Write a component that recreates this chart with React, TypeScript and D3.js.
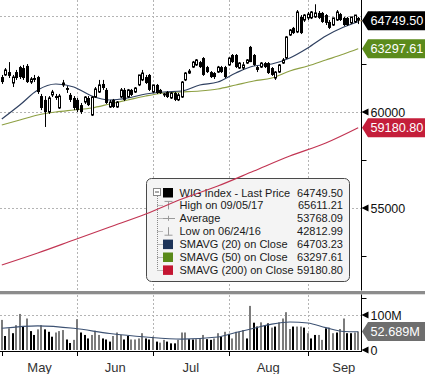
import React, { useEffect, useRef } from "react";
import * as d3 from "d3";

// daily candles, May 2 .. Sep 21 2017 (trading days)
const opens = [61820,61930,62080,61510,62080,62340,62290,62400,61560,61770, 61820,60830,60630,60000,60890,60830,60210,61410,61250,60890, 60730,60630,60360,60520,60730,59840,60780,61040,61460,61150, 60260,60630,60260,60780,61150,60780,61150,61040,61410,61670, 61820,61930,61040,61410,61150,60890,61040,60730,60990,60630, 60780,61670,62030,62340,62450,62600,62810,62340,62080,62030, 62080,62340,62340,62450,62970,62970,62290,62290,62550,63390, 62970,62340,62340,62550,62550,62290,61770,62080,62550,62810, 64010,64380,64170,64950,64790,64900,64900,64950,65160,65160, 65050,64690,64530,64790,65100,64900,64900,64640,64690,64900];
const highs = [61930,62290,62600,61930,62190,62400,62450,62500,61820,61930, 61880,60940,60830,60830,61150,60940,60940,61670,61350,60990, 60830,60730,60470,60830,60830,60830,61300,61670,61670,61250, 60630,60680,60570,61250,61250,61200,61200,61300,61930,62190, 61930,61980,61410,61460,61200,60990,61090,61040,61040,60990, 61610,62080,62240,62660,62760,62660,62860,62400,62130,62080, 62400,62400,62400,62860,63020,63020,62600,62600,62760,63440, 63020,62400,62600,62600,62600,62340,62130,62500,62810,63960, 64320,64430,65310,65050,65100,65210,65260,65611,65260,65210, 65100,64790,64900,65310,65160,64950,64950,64950,65050,64950];
const lows = [61460,61880,61770,61300,61670,61720,61670,61510,61460,61560, 60940,60100,59220,59900,60780,60630,60160,61300,60990,60520, 60100,60000,59900,60420,60310,59790,60730,60990,61150,60420, 60210,60210,60210,60730,60570,60730,60830,60990,61350,61610, 61460,61090,60990,60940,60940,60780,60730,60680,60570,60570, 60730,61610,61980,62290,62400,62290,61880,62030,61770,61720, 62030,62030,61770,62400,62550,62290,62240,62190,62500,62600, 62400,62080,62290,62290,61980,61880,61670,62030,62500,62760, 63960,64060,64110,64060,64690,64790,64840,64900,64840,64640, 64530,64320,64480,64740,64740,64480,64480,64580,64640,64580];
const closes = [61560,62190,61880,61820,61770,61820,61770,61560,61720,61670, 61040,60210,60000,60730,61040,60730,60830,61510,61150,60630, 60210,60100,60000,60780,60360,60780,61200,61410,61250,60470, 60520,60260,60520,61150,60630,61150,60890,61250,61930,62030, 61510,61150,61410,60990,60990,60940,60780,60990,60630,60890, 61560,62030,62130,62600,62710,62340,61930,62080,61820,61820, 62340,62080,61820,62810,62600,62340,62550,62450,62710,62600, 62450,62190,62550,62340,62030,61930,62080,62450,62710,63910, 64270,64110,65210,64110,65050,65100,65210,65160,64900,64690, 64640,64380,64900,65210,64790,64530,64530,64950,65050,64749.5];

// volume in millions, 1 = grey bar, 0 = black bar
const volumes = [86,40,62,48,71,103,67,90,54,43, 59,71,59,52,38,50,54,57,30,20, 29,88,50,43,33,43,55,43,33,30, 24,40,50,43,30,40,30,30,33,48, 33,30,38,24,21,29,24,19,19,29, 50,50,31,30,31,33,43,31,29,33, 48,38,52,46,33,52,52,57,33,126, 78,67,79,71,76,64,67,79,90,108, 60,67,67,67,64,48,33,43,43,29, 62,64,48,50,60,90,48,48,50,52.689];
const volUp = [1,0,1,0,1,1,0,1,0,0, 1,1,0,0,0,1,1,1,0,0, 1,1,0,0,0,1,1,1,0,0, 0,1,1,1,0,0,1,1,1,1, 0,0,1,0,1,1,0,0,0,1, 1,1,0,0,1,1,1,0,0,1, 1,0,1,0,1,1,1,1,0,1, 0,0,1,0,0,1,0,1,1,1, 1,0,1,1,0,1,0,0,1,1, 0,1,1,0,1,1,0,0,1,1];

// moving averages read at sample days
const maIdx = [0,5,10,15,20,25,30,35,40,45,50,55,60,65,70,75,80,85,90,95,99];
const sma20 = [59635,60365,61146,61458,61302,60833,60625,60729,60937,61042,61094,61406,61562,62031,62396,62500,62812,63333,63958,64427,64703.23];
const sma50 = [59323,59583,59844,60000,60104,60208,60417,60625,60833,60990,61042,61094,61198,61406,61615,61771,62135,62396,62708,63021,63297.61];
const ma200Idx = [0,10,20,30,40,50,60,70,80,90,99];
const sma200 = [52031,52656,53333,54010,54687,55469,56146,56927,57708,58385,59180.8];
const volMaIdx = [0,10,20,30,40,50,60,65,70,75,80,85,90,95,99];
const volMa = [62,69,62,47,37,31,37,50,62,74,80,77,64,53,52];

const months = ["May", "Jun", "Jul", "Aug", "Sep"];
const monthStarts = [0, 21, 42, 63, 85, 105];

const legendLabels = ["WIG Index - Last Price", "High on 09/05/17", "Average", "Low on 06/24/16", "SMAVG (20) on Close", "SMAVG (50) on Close", "SMAVG (200) on Close"];
const legendValues = ["64749.50", "65611.21", "53768.09", "42812.99", "64703.23", "63297.61", "59180.80"];

const FONT = "'Liberation Sans', Arial, sans-serif";

export default function App() {
  const ref = useRef<SVGSVGElement>(null);

  useEffect(() => {
    drawChart(ref.current);
  }, []);

  return <svg ref={ref} width={425} height={374} style={{ position: "fixed", left: 0, top: 0 }} />;
}

function drawChart(el: SVGSVGElement | null) {
  if (!el) return;
  const svg = d3.select(el);
  svg.selectAll("*").remove();
  svg.attr("font-family", FONT);

  const axisX = 361.5;
  const x = d3.scaleLinear().domain([-0.5, 99.5]).range([0, 360]);
  const y = d3.scaleLinear().domain([60000, 65000]).range([112, 16]);
  const yv = d3.scaleLinear().domain([0, 100]).range([350, 315]);
  const px = (i: number) => Math.round(x(i)) + 0.5;

  svg.append("rect").attr("width", 425).attr("height", 374).attr("fill", "#fff");

  // grid
  const grid = svg.append("g").attr("stroke", "#b4b4b4").attr("stroke-dasharray", "2,2");
  [55000, 60000, 65000].forEach((v) => {
    const yy = Math.round(y(v)) + 0.5;
    grid.append("line").attr("x1", 0).attr("x2", axisX).attr("y1", yy).attr("y2", yy);
  });
  const vy = Math.round(yv(100)) + 0.5;
  grid.append("line").attr("x1", 0).attr("x2", axisX).attr("y1", vy).attr("y2", vy);
  monthStarts.slice(1, 5).forEach((m) => {
    grid.append("line").attr("x1", px(m)).attr("x2", px(m)).attr("y1", 0).attr("y2", 290);
    grid.append("line").attr("x1", px(m)).attr("x2", px(m)).attr("y1", 295).attr("y2", 351);
  });

  // legend box (under the lines)
  const lg = svg.append("g");
  lg.append("rect").attr("x", 146.5).attr("y", 178.5).attr("width", 203).attr("height", 103)
    .attr("rx", 5).attr("fill", "#f4f4f4").attr("stroke", "#4a4a4a");
  const rowY = (k: number) => 192.5 + k * 12.9;
  lg.append("line").attr("x1", 157.5).attr("x2", 157.5).attr("y1", 196).attr("y2", rowY(6))
    .attr("stroke", "#888").attr("stroke-dasharray", "1,1");
  lg.append("rect").attr("x", 153.5).attr("y", 188.5).attr("width", 7).attr("height", 7)
    .attr("fill", "#fff").attr("stroke", "#888");
  lg.append("line").attr("x1", 155).attr("x2", 159).attr("y1", 192).attr("y2", 192).attr("stroke", "#555");
  const swatch = ["#000000", null, null, null, "#1c3358", "#5a8a1a", "#c41632"];
  legendLabels.forEach((t, k) => {
    const cy = rowY(k);
    if (k > 0) {
      lg.append("line").attr("x1", 157.5).attr("x2", 163).attr("y1", Math.round(cy) + 0.5).attr("y2", Math.round(cy) + 0.5)
        .attr("stroke", "#888").attr("stroke-dasharray", "1,1");
    }
    const c = swatch[k];
    if (c) {
      lg.append("rect").attr("x", 163).attr("y", cy - 4.5).attr("width", 10).attr("height", 9.5).attr("fill", c);
    } else if (k === 1) {
      lg.append("path").attr("d", `M164.5,${cy - 4}H172.5M168.5,${cy - 4}V${cy + 4}`).attr("stroke", "#9a9a9a").attr("fill", "none");
    } else if (k === 2) {
      lg.append("path").attr("d", `M163,${Math.round(cy) + 0.5}H175M168.5,${cy - 2.5}V${cy + 2.5}`).attr("stroke", "#9a9a9a").attr("fill", "none");
    } else if (k === 3) {
      lg.append("path").attr("d", `M168.5,${cy - 4}V${cy + 4}M164.5,${cy + 4}H172.5`).attr("stroke", "#9a9a9a").attr("fill", "none");
    }
    lg.append("text").attr("x", 179.5).attr("y", cy + 4).attr("font-size", 11).attr("fill", "#1a1a1a").text(t);
    lg.append("text").attr("x", 343).attr("y", cy + 4).attr("font-size", 11).attr("fill", "#1a1a1a")
      .attr("text-anchor", "end").text(legendValues[k]);
  });

  // moving averages
  const maLine = (idx: number[], vals: number[], sc: d3.ScaleLinear<number, number>) =>
    d3.line<number>().x((_, j) => x(idx[j])).y((v) => sc(v)).curve(d3.curveMonotoneX)(vals);
  svg.append("path").attr("d", maLine(ma200Idx, sma200, y)).attr("fill", "none").attr("stroke", "#c23553").attr("stroke-width", 1.2);
  svg.append("path").attr("d", maLine(maIdx, sma50, y)).attr("fill", "none").attr("stroke", "#8ea044").attr("stroke-width", 1.2);
  svg.append("path").attr("d", maLine(maIdx, sma20, y)).attr("fill", "none").attr("stroke", "#2f4060").attr("stroke-width", 1.2);

  // candles
  const cg = svg.append("g");
  closes.forEach((c, i) => {
    const o = opens[i];
    const cx = px(i);
    cg.append("line").attr("x1", cx).attr("x2", cx).attr("y1", y(highs[i])).attr("y2", y(lows[i]))
      .attr("stroke", "#000");
    const top = y(Math.max(o, c));
    const bot = y(Math.min(o, c));
    if (c >= o) {
      cg.append("rect").attr("x", cx - 1).attr("y", top).attr("width", 2).attr("height", Math.max(bot - top, 1))
        .attr("fill", "#fff").attr("stroke", "#000");
    } else {
      cg.append("rect").attr("x", cx - 1.5).attr("y", top).attr("width", 3).attr("height", Math.max(bot - top, 1))
        .attr("fill", "#000");
    }
  });

  // volume
  const vg = svg.append("g");
  volumes.forEach((v, i) => {
    vg.append("rect").attr("x", Math.round(x(i)) - 1).attr("y", yv(v)).attr("width", 2).attr("height", yv(0) - yv(v))
      .attr("fill", volUp[i] ? "#7c7c7c" : "#000");
  });
  svg.append("path").attr("d", maLine(volMaIdx, volMa, yv)).attr("fill", "none").attr("stroke", "#3d5273").attr("stroke-width", 1.1);

  // separator + axes
  svg.append("rect").attr("x", 0).attr("y", 291).attr("width", 425).attr("height", 3.3).attr("fill", "#8c8c8c");
  const ax = svg.append("g").attr("stroke", "#000");
  ax.append("line").attr("x1", axisX).attr("x2", axisX).attr("y1", 0).attr("y2", 290.5);
  ax.append("line").attr("x1", axisX).attr("x2", axisX).attr("y1", 294.5).attr("y2", 352);
  ax.append("line").attr("x1", 0).attr("x2", axisX).attr("y1", 351.5).attr("y2", 351.5);
  monthStarts.slice(0, 5).forEach((m) => {
    ax.append("line").attr("x1", px(m)).attr("x2", px(m)).attr("y1", 351.5).attr("y2", 356);
  });
  [52500, 57500, 62500].forEach((v) => {
    const yy = Math.round(y(v)) + 0.5;
    ax.append("line").attr("x1", axisX).attr("x2", axisX + 5).attr("y1", yy).attr("y2", yy);
  });
  ax.append("line").attr("x1", axisX).attr("x2", axisX + 5).attr("y1", Math.round(yv(150)) + 0.5).attr("y2", Math.round(yv(150)) + 0.5);

  months.forEach((m, k) => {
    svg.append("text").attr("x", x((monthStarts[k] + monthStarts[k + 1]) / 2)).attr("y", 372)
      .attr("text-anchor", "middle").attr("font-size", 13).attr("fill", "#333").text(m);
  });

  // axis labels with pointers
  const pointerLabel = (yy: number, txt: string) => {
    svg.append("path").attr("d", `M${axisX},${yy}L${axisX + 7},${yy - 3.5}L${axisX + 7},${yy + 3.5}Z`).attr("fill", "#000");
    svg.append("text").attr("x", 370.5).attr("y", yy + 4.5).attr("font-size", 12.5).attr("fill", "#111").text(txt);
  };
  [55000, 60000].forEach((v) => pointerLabel(y(v), String(v)));
  pointerLabel(yv(100), "100M");
  pointerLabel(yv(0), "0");

  const boxLabel = (yy: number, txt: string, fill: string) => {
    svg.append("path").attr("d", `M362,${yy}L368,${yy - 9.5}H425V${yy + 9.5}H368Z`).attr("fill", fill);
    svg.append("text").attr("x", 370.5).attr("y", yy + 4.6).attr("font-size", 12.7).attr("fill", "#fff").text(txt);
  };
  const lastY = y(closes[closes.length - 1]);
  svg.append("line").attr("x1", px(99) + 1).attr("x2", 362).attr("y1", lastY).attr("y2", lastY).attr("stroke", "#c8a878");
  boxLabel(lastY, "64749.50", "#000");
  boxLabel(y(sma50[sma50.length - 1]), "63297.61", "#5b8b1c");
  boxLabel(y(sma200[sma200.length - 1]), "59180.80", "#c41e3a");
  boxLabel(yv(volumes[volumes.length - 1]), "52.689M", "#6e6e6e");
}
